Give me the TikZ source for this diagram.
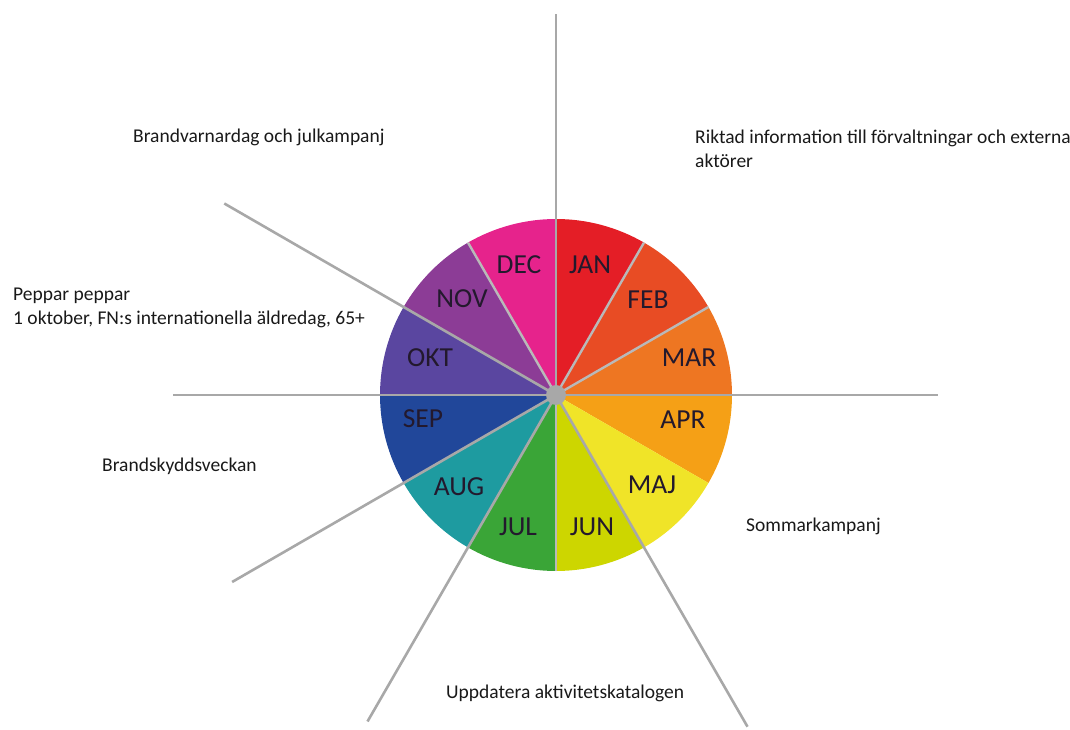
\documentclass[tikz,border=0pt]{standalone}
\usepackage{fontspec}
\setmainfont{Carlito}
\usetikzlibrary{calc}
\definecolor{cJAN}{RGB}{228,30,38}
\definecolor{cFEB}{RGB}{232,76,36}
\definecolor{cMAR}{RGB}{238,118,34}
\definecolor{cAPR}{RGB}{245,160,22}
\definecolor{cMAJ}{RGB}{240,228,40}
\definecolor{cJUN}{RGB}{205,214,0}
\definecolor{cJUL}{RGB}{58,165,55}
\definecolor{cAUG}{RGB}{30,155,160}
\definecolor{cSEP}{RGB}{33,71,154}
\definecolor{cOKT}{RGB}{90,70,160}
\definecolor{cNOV}{RGB}{140,60,150}
\definecolor{cDEC}{RGB}{230,35,140}
\definecolor{spoke}{RGB}{168,168,168}
\definecolor{inner}{RGB}{185,185,185}
\definecolor{monthtext}{RGB}{35,25,45}
\definecolor{labeltext}{RGB}{25,25,25}
\begin{document}
\begin{tikzpicture}[x=1pt,y=1pt,
  month/.style={font=\fontsize{27.5}{30}\selectfont, text=monthtext, inner sep=0pt},
  note/.style={font=\fontsize{19.5}{24}\selectfont, text=labeltext, anchor=west, align=left, inner sep=0pt},
  innerline/.style={draw=inner, line width=2.4pt},
  spokeline/.style={draw=spoke, line width=2.6pt},
]
\useasboundingbox (0,0) rectangle (1070,729);
\coordinate (c) at (556,334);
% sectors
\foreach \s/\col in {90/cJAN,60/cFEB,30/cMAR,0/cAPR,-30/cMAJ,-60/cJUN,-90/cJUL,-120/cAUG,-150/cSEP,-180/cOKT,-210/cNOV,-240/cDEC}{
  \fill[\col] (c) -- ++(\s:176) arc[start angle=\s, end angle=\s-30, radius=176] -- cycle;
}
% inner boundary lines
\coordinate (b30) at ($(c)+(30:176)$);
\coordinate (b60) at ($(c)+(60:176)$);
\coordinate (b120) at ($(c)+(120:176)$);
\coordinate (b270) at ($(c)+(270:176)$);
\draw[innerline] (c) -- (b30);
\draw[innerline] (c) -- (b60);
\draw[innerline] (c) -- (b120);
\draw[innerline] (c) -- (b270);
% long spokes
\coordinate (e90) at ($(c)+(90:381)$);
\coordinate (e0) at ($(c)+(0:382)$);
\coordinate (e180) at ($(c)+(180:383)$);
\coordinate (e150) at ($(c)+(150:383)$);
\coordinate (e210) at ($(c)+(210:374)$);
\coordinate (e240) at ($(c)+(240:377)$);
\coordinate (e300) at ($(c)+(300:383)$);
\draw[spokeline] (c) -- (e90);
\draw[spokeline] (c) -- (e0);
\draw[spokeline] (c) -- (e180);
\draw[spokeline] (c) -- (e150);
\draw[spokeline] (c) -- (e210);
\draw[spokeline] (c) -- (e240);
\draw[spokeline] (c) -- (e300);
\fill[spoke] (c) circle[radius=10];
\node[circle, minimum size=20pt, inner sep=0pt] (hub) at (c) {};
% month labels
\node[month] (jan) at (590,464) {JAN};
\node[month] (feb) at (648,429) {FEB};
\node[month] (mar) at (689,371) {MAR};
\node[month] (apr) at (683,309) {APR};
\node[month] (maj) at (652,244) {MAJ};
\node[month] (jun) at (592,202) {JUN};
\node[month] (jul) at (518,202) {JUL};
\node[month] (aug) at (459,242) {AUG};
\node[month] (sep) at (423,310) {SEP};
\node[month] (okt) at (430,371) {OKT};
\node[month] (nov) at (462,430) {NOV};
\node[month] (dec) at (519,464) {DEC};
% notes
\node[note] (n1) at (133,592) {Brandvarnardag och julkampanj};
\node[note] (n2) at (695,580) {Riktad information till förvaltningar och externa\\aktörer};
\node[note] (n3) at (13,421) {Peppar peppar\\1 oktober, FN:s internationella äldredag, 65+};
\node[note] (n4) at (102,263) {Brandskyddsveckan};
\node[note] (n5) at (746,203) {Sommarkampanj};
\node[note] (n6) at (446,36) {Uppdatera aktivitetskatalogen};
\end{tikzpicture}
\end{document}
